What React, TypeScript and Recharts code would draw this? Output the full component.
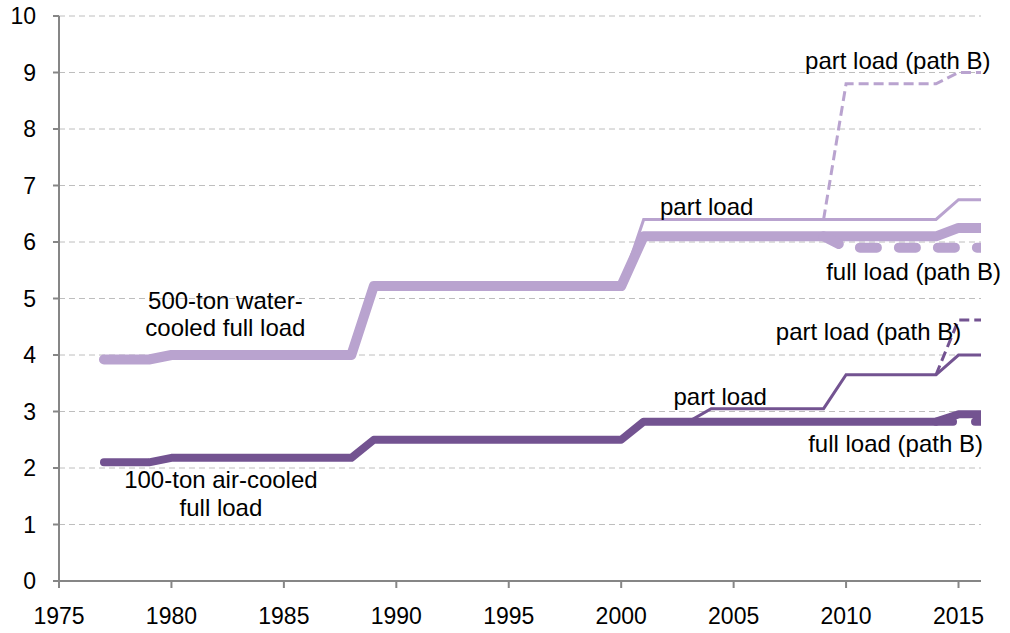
import React from "react";
import {
  LineChart,
  Line,
  XAxis,
  YAxis,
  CartesianGrid,
  ReferenceDot,
} from "recharts";

// ---------------------------------------------------------------------------
// Data
// ---------------------------------------------------------------------------

const years = [
  1977, 1978, 1979, 1980, 1981, 1982, 1983, 1984, 1985, 1986,
  1987, 1988, 1989, 1990, 1991, 1992, 1993, 1994, 1995, 1996,
  1997, 1998, 1999, 2000, 2001, 2002, 2003, 2004, 2005, 2006,
  2007, 2008, 2009, 2010, 2011, 2012, 2013, 2014, 2015, 2016,
];

// 500-ton water-cooled
const waterFull = [
  3.92, 3.92, 3.92, 4.0, 4.0, 4.0, 4.0, 4.0, 4.0, 4.0,
  4.0, 4.0, 5.22, 5.22, 5.22, 5.22, 5.22, 5.22, 5.22, 5.22,
  5.22, 5.22, 5.22, 5.22, 6.1, 6.1, 6.1, 6.1, 6.1, 6.1,
  6.1, 6.1, 6.1, 6.1, 6.1, 6.1, 6.1, 6.1, 6.25, 6.25,
];
const waterPart = [
  null, null, null, null, null, null, null, null, null, null,
  null, null, null, null, null, null, null, null, null, null,
  null, null, null, 5.22, 6.4, 6.4, 6.4, 6.4, 6.4, 6.4,
  6.4, 6.4, 6.4, 6.4, 6.4, 6.4, 6.4, 6.4, 6.75, 6.75,
];
const waterPartB = [
  null, null, null, null, null, null, null, null, null, null,
  null, null, null, null, null, null, null, null, null, null,
  null, null, null, null, null, null, null, null, null, null,
  null, null, 6.4, 8.8, 8.8, 8.8, 8.8, 8.8, 9.0, 9.0,
];
const waterFullB = [
  null, null, null, null, null, null, null, null, null, null,
  null, null, null, null, null, null, null, null, null, null,
  null, null, null, null, null, null, null, null, null, null,
  null, null, 6.1, 5.9, 5.9, 5.9, 5.9, 5.9, 5.9, 5.9,
];

// 100-ton air-cooled
const airFull = [
  2.1, 2.1, 2.1, 2.18, 2.18, 2.18, 2.18, 2.18, 2.18, 2.18,
  2.18, 2.18, 2.5, 2.5, 2.5, 2.5, 2.5, 2.5, 2.5, 2.5,
  2.5, 2.5, 2.5, 2.5, 2.82, 2.82, 2.82, 2.82, 2.82, 2.82,
  2.82, 2.82, 2.82, 2.82, 2.82, 2.82, 2.82, 2.82, 2.95, 2.95,
];
const airPart = [
  null, null, null, null, null, null, null, null, null, null,
  null, null, null, null, null, null, null, null, null, null,
  null, null, null, null, null, null, 2.82, 3.05, 3.05, 3.05,
  3.05, 3.05, 3.05, 3.65, 3.65, 3.65, 3.65, 3.65, 4.0, 4.0,
];
const airPartB = [
  null, null, null, null, null, null, null, null, null, null,
  null, null, null, null, null, null, null, null, null, null,
  null, null, null, null, null, null, null, null, null, null,
  null, null, null, null, null, null, null, 3.65, 4.62, 4.62,
];
const airFullB = [
  null, null, null, null, null, null, null, null, null, null,
  null, null, null, null, null, null, null, null, null, null,
  null, null, null, null, null, null, null, null, null, null,
  null, null, null, null, null, null, null, 2.82, 2.82, 2.82,
];

const xTicks = [1975, 1980, 1985, 1990, 1995, 2000, 2005, 2010, 2015];
const yTicks = [0, 1, 2, 3, 4, 5, 6, 7, 8, 9, 10];

// Annotation text, anchored in data coordinates [year, value]
const annotations: { text: string; x: number; y: number }[] = [
  { text: "part load (path B)", x: 2012.3, y: 9.22 },
  { text: "part load", x: 2003.8, y: 6.62 },
  { text: "full load (path B)", x: 2013.0, y: 5.47 },
  { text: "500-ton water-", x: 1982.4, y: 4.97 },
  { text: "cooled full load", x: 1982.4, y: 4.48 },
  { text: "part load (path B)", x: 2011.0, y: 4.41 },
  { text: "part load", x: 2004.4, y: 3.27 },
  { text: "full load (path B)", x: 2012.2, y: 2.44 },
  { text: "100-ton air-cooled", x: 1982.2, y: 1.79 },
  { text: "full load", x: 1982.2, y: 1.31 },
];

// ---------------------------------------------------------------------------
// Styles
// ---------------------------------------------------------------------------

const LIGHT = "#B9A3CF";
const DARK = "#735391";
const AXIS = "#868686";
const FONT = '"Liberation Sans", Arial, sans-serif';

const rows = years.map((year, i) => ({
  year,
  waterFull: waterFull[i],
  waterPart: waterPart[i],
  waterPartB: waterPartB[i],
  waterFullB: waterFullB[i],
  airFull: airFull[i],
  airPart: airPart[i],
  airPartB: airPartB[i],
  airFullB: airFullB[i],
}));

export default function App(): React.ReactElement {
  const tickStyle = { fill: "#000", fontSize: 23, fontFamily: FONT };
  return (
    <div style={{ position: "absolute", left: 0, top: 0, background: "#fff", fontFamily: FONT }}>
      <LineChart
        width={1010}
        height={633}
        data={rows}
        margin={{ top: 16, right: 29, bottom: 0, left: 0 }}
      >
        <CartesianGrid vertical={false} stroke="#BEBEBE" strokeDasharray="6 4" />
        <XAxis
          dataKey="year"
          type="number"
          domain={[1975, 2016]}
          ticks={xTicks}
          interval={0}
          height={52}
          tickSize={7}
          tickMargin={20}
          stroke={AXIS}
          strokeWidth={2}
          tick={tickStyle}
          allowDataOverflow
        />
        <YAxis
          type="number"
          domain={[0, 10]}
          ticks={yTicks}
          interval={0}
          width={59}
          tickSize={6}
          tickMargin={17}
          stroke={AXIS}
          strokeWidth={2}
          tick={tickStyle}
        />

        {/* 500-ton water-cooled */}
        <Line dataKey="waterFull" stroke={LIGHT} strokeWidth={10} dot={false} strokeLinecap="round" strokeLinejoin="round" isAnimationActive={false} />
        <Line dataKey="waterPart" stroke={LIGHT} strokeWidth={3} dot={false} isAnimationActive={false} />
        <Line dataKey="waterPartB" stroke={LIGHT} strokeWidth={3} strokeDasharray="10 5" dot={false} isAnimationActive={false} />
        <Line dataKey="waterFullB" stroke={LIGHT} strokeWidth={10} strokeDasharray="17 22" strokeLinecap="round" strokeLinejoin="round" dot={false} isAnimationActive={false} />

        {/* 100-ton air-cooled */}
        <Line dataKey="airFull" stroke={DARK} strokeWidth={8} dot={false} strokeLinecap="round" strokeLinejoin="round" isAnimationActive={false} />
        <Line dataKey="airPart" stroke={DARK} strokeWidth={3} dot={false} isAnimationActive={false} />
        <Line dataKey="airPartB" stroke={DARK} strokeWidth={3} strokeDasharray="10 5" dot={false} isAnimationActive={false} />
        <Line dataKey="airFullB" stroke={DARK} strokeWidth={8} strokeDasharray="17 22" strokeLinecap="round" strokeLinejoin="round" dot={false} isAnimationActive={false} />

        {annotations.map((a, i) => (
          <ReferenceDot
            key={i}
            x={a.x}
            y={a.y}
            r={0}
            fill="none"
            stroke="none"
            ifOverflow="visible"
            label={{
              value: a.text,
              position: "center",
              fill: "#000",
              fontSize: 24,
              fontFamily: FONT,
            }}
          />
        ))}
      </LineChart>
    </div>
  );
}
